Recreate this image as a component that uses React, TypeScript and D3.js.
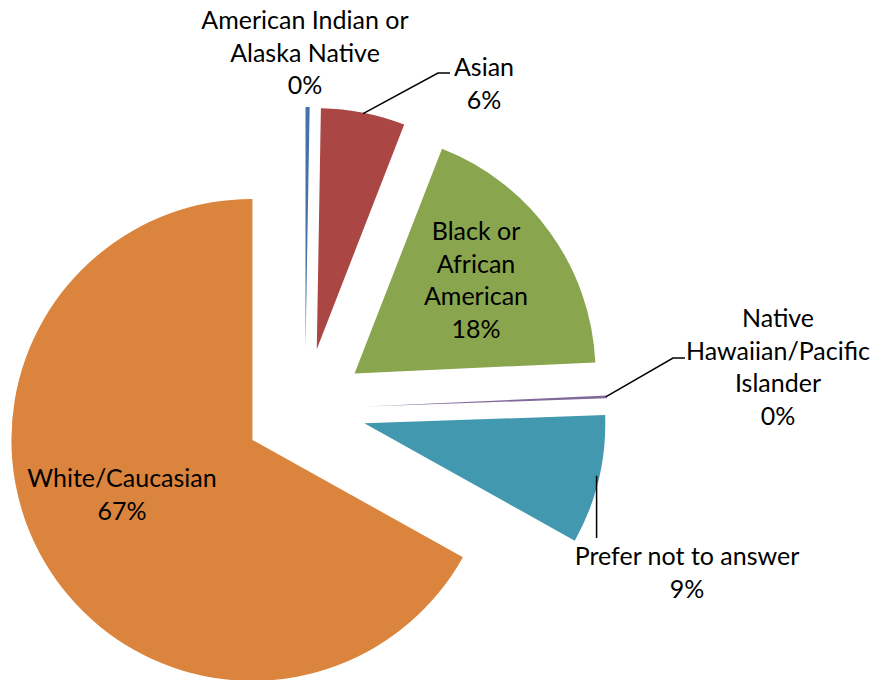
import React, { useRef, useEffect } from 'react';
import * as d3 from 'd3';

// respondent counts per category
const categories = [
  'American Indian or Alaska Native',
  'Asian',
  'Black or African American',
  'Native Hawaiian/Pacific Islander',
  'Prefer not to answer',
  'White/Caucasian',
];
const counts = [3, 62, 202, 2, 95, 736];
const colors = ['#4572A7', '#AA4643', '#89A54E', '#80699B', '#4198AF', '#DB843D'];
// how each label is wrapped, as in the original
const labelLines = [
  ['American Indian or', 'Alaska Native'],
  ['Asian'],
  ['Black or', 'African', 'American'],
  ['Native', 'Hawaiian/Pacific', 'Islander'],
  ['Prefer not to answer'],
  ['White/Caucasian'],
];

export default function App() {
  const svgRef = useRef<SVGSVGElement>(null);

  useEffect(() => {
    const width = 874;
    const height = 680;
    const cx = 305;
    const cy = 409;
    const radius = 241;
    const explode = 61;
    const lineH = 32.5;

    // label layout: centre x, first baseline y
    const labelPos = [
      { x: 305, y: 29 },
      { x: 484, y: 76 },
      { x: 476, y: 240 },
      { x: 778, y: 327 },
      { x: 687, y: 565 },
      { x: 122, y: 487 },
    ];

    const svg = d3.select(svgRef.current);
    svg.selectAll('*').remove();
    svg.append('rect').attr('width', width).attr('height', height).attr('fill', '#fff');

    const total = d3.sum(counts);
    const data = categories.map((c, i) => ({ name: c, value: counts[i], i }));
    const pie = d3.pie<any>().value(d => d.value).sort(null);
    const arcs = pie(data);
    const arc = d3.arc<any>().innerRadius(0).outerRadius(radius);

    const polar = (a: number, r: number) => [r * Math.sin(a), -r * Math.cos(a)];

    const g = svg.append('g').attr('transform', `translate(${cx},${cy})`);

    arcs.forEach(a => {
      const mid = (a.startAngle + a.endAngle) / 2;
      const [ox, oy] = polar(mid, explode);
      g.append('path')
        .attr('d', arc(a) as string)
        .attr('transform', `translate(${ox},${oy})`)
        .attr('fill', colors[a.data.i]);
    });

    // leader lines
    const lead = svg.append('g').attr('stroke', '#000').attr('stroke-width', 1.5).attr('fill', 'none');
    const edgePoint = (i: number) => {
      const a = arcs[i];
      const mid = (a.startAngle + a.endAngle) / 2;
      const [ox, oy] = polar(mid, explode);
      const [px, py] = polar(mid, radius - 1);
      return [cx + ox + px, cy + oy + py];
    };
    const line = d3.line();
    {
      const p = edgePoint(1);
      lead.append('path').attr('d', line([p as [number, number], [438, 73], [450, 73]]));
    }
    {
      const p = edgePoint(3);
      lead.append('path').attr('d', line([p as [number, number], [673, 358], [685, 358]]));
    }
    {
      const p = edgePoint(4);
      lead.append('path').attr('d', line([[p[0] - 1, p[1] - 4], [p[0] - 1, 538]]));
    }

    // labels
    const fmt = d3.format('.0%');
    arcs.forEach(a => {
      const i = a.data.i;
      const lines = [...labelLines[i], fmt(a.data.value / total)];
      const t = svg.append('text')
        .attr('text-anchor', 'middle')
        .attr('font-family', 'Lato, "Open Sans", sans-serif')
        .attr('font-size', 25)
        .attr('fill', '#000');
      lines.forEach((s, k) => {
        t.append('tspan')
          .attr('x', labelPos[i].x)
          .attr('y', labelPos[i].y + k * lineH)
          .text(s);
      });
    });
  }, []);

  return (
    <svg
      ref={svgRef}
      width={874}
      height={680}
      style={{ position: 'absolute', left: 0, top: 0, display: 'block' }}
    />
  );
}
